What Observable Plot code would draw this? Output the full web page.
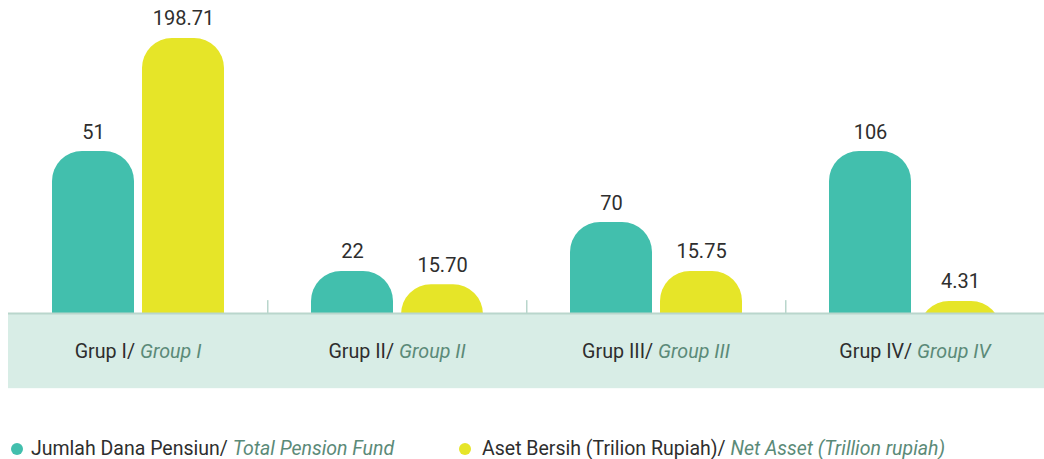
<!DOCTYPE html>
<html>
<head>
<meta charset="utf-8">
<script src="https://cdn.jsdelivr.net/npm/d3@7"></script>
<script src="https://cdn.jsdelivr.net/npm/@observablehq/plot@0.6"></script>
<style>
  html, body { margin: 0; padding: 0; background: #ffffff; }
  body { width: 1044px; height: 459px; overflow: hidden; font-family: Roboto, sans-serif; }
  #chart svg { display: block; }
  #legend { position: relative; height: 59px; font-size: 19.5px; color: #2e2e2e; }
  .item { position: absolute; top: 37px; white-space: nowrap; line-height: 24px; }
  .dot { position: absolute; top: 43px; width: 12px; height: 12px; border-radius: 50%; }
  .en { font-style: italic; color: #5b8a78; }
</style>
</head>
<body>
<div id="chart"></div>
<div id="legend"></div>
<script>
// Categories
const groupsId = ["Grup I", "Grup II", "Grup III", "Grup IV"];
const groupsEn = ["Group I", "Group II", "Group III", "Group IV"];
// Series
const seriesId = ["Jumlah Dana Pensiun", "Aset Bersih (Trilion Rupiah)"];
const seriesEn = ["Total Pension Fund", "Net Asset (Trillion rupiah)"];
const seriesColors = ["#42bfad", "#e6e528"];
// Values (as labelled)
const pensionFunds = [51, 22, 70, 106];
const netAssets = [198.71, 15.70, 15.75, 4.31];
// Bar heights as drawn in the source graphic (not proportional to the values), tallest bar = 100
const fundLevels = [58.9, 15.3, 33.1, 58.9];
const assetLevels = [100, 10.5, 15.3, 4.4];

const data = groupsId.flatMap((g, i) => [
  {group: g, series: seriesId[0], value: pensionFunds[i], level: fundLevels[i], label: String(pensionFunds[i])},
  {group: g, series: seriesId[1], value: netAssets[i], level: assetLevels[i], label: netAssets[i].toFixed(2)}
]);

const W = 1044, H = 400, ML = 8;
const facetW = (W - ML) / groupsId.length;
const bandBottom = -27.3;
const barBase = -20;
const bandColor = "#d8ede6";
const lineColor = "#b9d6cc";

const chart = Plot.plot({
  width: W,
  height: H,
  marginLeft: ML,
  marginRight: 0,
  marginTop: 0,
  marginBottom: 0,
  style: {fontFamily: "Roboto, sans-serif", background: "transparent"},
  fx: {domain: groupsId, padding: 0, axis: null, label: null},
  x: {domain: seriesId, paddingInner: 0.089, paddingOuter: 0.483, axis: null},
  y: {domain: [-31.6, 113.8], axis: null},
  color: {domain: seriesId, range: seriesColors},
  marks: [
    Plot.barY(data, {fx: "group", x: "series", y1: barBase, y2: "level", fill: "series", rx: 30, ry: 30}),
    Plot.rect(groupsId, {fx: d => d, y1: bandBottom, y2: 0, fill: bandColor}),
    Plot.ruleY([0], {stroke: lineColor, strokeWidth: 2}),
    Plot.rect(groupsId.slice(1), {fx: d => d, y1: 0, y2: 4.7, insetRight: facetW - 1.5, fill: lineColor}),
    Plot.text(data, {fx: "group", x: "series", y: "level", text: "label", dy: -13, lineAnchor: "bottom", fontSize: 20, fill: "#2e2e2e"}),
    Plot.text(groupsId, {fx: d => d, y: -14, text: d => d, lineAnchor: "middle", fontSize: 19.7, fill: "#2e2e2e"})
  ]
});
document.getElementById("chart").appendChild(chart);

// Split each group label into local text + italic English translation
d3.select(chart).selectAll("text").each(function() {
  const t = d3.select(this);
  const id = t.text();
  const k = groupsId.indexOf(id);
  if (k < 0) return;
  t.text(null);
  t.append("tspan").attr("fill", "#2e2e2e").text(id + "/ ");
  t.append("tspan").attr("fill", "#5b8a78").attr("font-style", "italic").text(groupsEn[k]);
});

// Legend
const legend = d3.select("#legend");
const dotLeft = [11, 459];
const textLeft = [31, 482];
seriesId.forEach((s, i) => {
  legend.append("span").attr("class", "dot").style("left", dotLeft[i] + "px").style("background", seriesColors[i]);
  const item = legend.append("span").attr("class", "item").style("left", textLeft[i] + "px");
  item.append("span").text(s + "/ ");
  item.append("span").attr("class", "en").text(seriesEn[i]);
});
</script>
</body>
</html>
